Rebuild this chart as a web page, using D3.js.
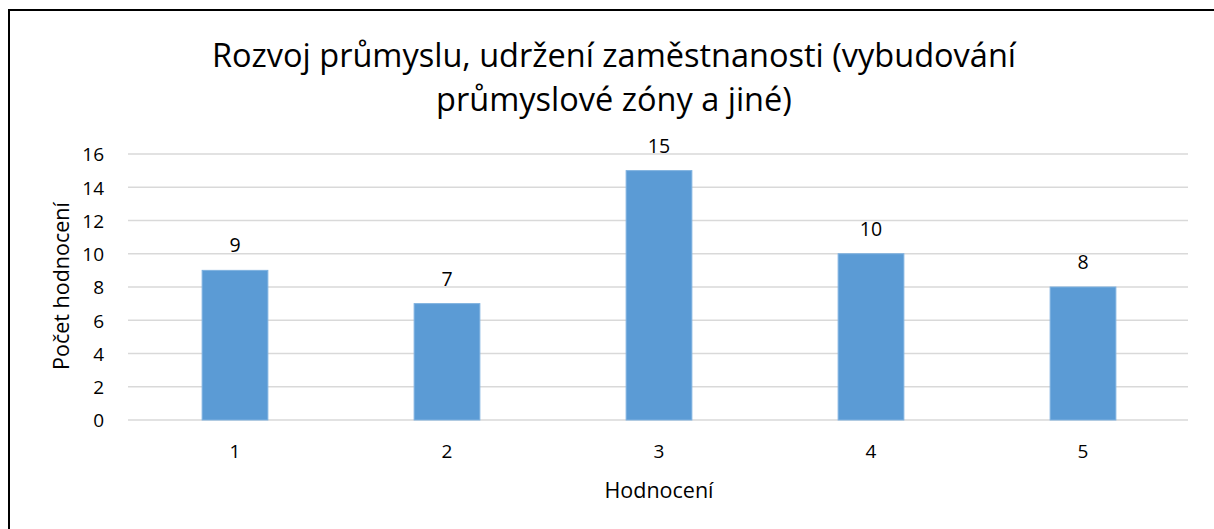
<!DOCTYPE html>
<html>
<head>
<meta charset="utf-8">
<script src="https://cdn.jsdelivr.net/npm/d3@7"></script>
<style>
  body { margin: 0; background: #fff; }
  text { font-family: "Open Sans", "Noto Sans", sans-serif; fill: #000; }
</style>
</head>
<body>
<div id="chart"></div>
<script>
// data
const kategorie = ["1", "2", "3", "4", "5"];
const hodnoty = [9, 7, 15, 10, 8];
const yTicks = [0, 2, 4, 6, 8, 10, 12, 14, 16];
const titulek = ["Rozvoj průmyslu, udržení zaměstnanosti (vybudování", "průmyslové zóny a jiné)"];
const xNazev = "Hodnocení";
const yNazev = "Počet hodnocení";

const W = 1214, H = 529;
const margin = { top: 154, right: 25, bottom: 109, left: 129 };
const width = W - margin.left - margin.right;
const height = H - margin.top - margin.bottom;

const svg = d3.select("#chart").append("svg")
  .attr("width", W).attr("height", H);

// ramecek
svg.append("path")
  .attr("d", `M9,${H} L9,10 L${W},10`)
  .attr("fill", "none").attr("stroke", "#000").attr("stroke-width", 2);

const g = svg.append("g").attr("transform", `translate(${margin.left},${margin.top})`);

const x = d3.scaleBand().domain(kategorie).range([0, width])
  .paddingInner(0.69).paddingOuter(0.345);
const y = d3.scaleLinear().domain([0, 16]).range([height, 0]);

// mrizka
g.selectAll(".grid").data(yTicks).enter().append("line")
  .attr("x1", -1).attr("x2", width - 1)
  .attr("y1", d => y(d)).attr("y2", d => y(d))
  .attr("stroke", "#d9d9d9").attr("stroke-width", 1.5);

// osa y
const yAxis = g.append("g").attr("transform", "translate(-25,0)")
  .call(d3.axisLeft(y).tickValues(yTicks).tickSize(0).tickPadding(0));
yAxis.select(".domain").remove();
yAxis.selectAll("text").style("font-size", "19px").attr("dy", "0.36em");

// osa x
const xAxis = g.append("g").attr("transform", `translate(0,${height})`)
  .call(d3.axisBottom(x).tickSize(0).tickPadding(0));
xAxis.select(".domain").remove();
xAxis.selectAll("text").style("font-size", "19px").attr("y", 38).attr("dy", 0);

// sloupce
g.selectAll(".bar").data(hodnoty).enter().append("rect")
  .attr("x", (d, i) => x(kategorie[i]))
  .attr("y", d => y(d))
  .attr("width", x.bandwidth())
  .attr("height", d => y(0) - y(d))
  .attr("fill", "#5b9bd5")
  .attr("stroke", "#7eb1e0").attr("stroke-width", 1);

// popisky
g.selectAll(".lbl").data(hodnoty).enter().append("text")
  .attr("x", (d, i) => x(kategorie[i]) + x.bandwidth() / 2)
  .attr("y", d => y(d) - 18)
  .attr("text-anchor", "middle")
  .style("font-size", "19.5px")
  .text(d => d);

// titulek
svg.selectAll(".title").data(titulek).enter().append("text")
  .attr("x", 614)
  .attr("y", (d, i) => 67 + i * 44)
  .attr("text-anchor", "middle")
  .style("font-size", "32.5px")
  .text(d => d);

// nazvy os
svg.append("text")
  .attr("x", 659).attr("y", 498)
  .attr("text-anchor", "middle").style("font-size", "21.5px")
  .text(xNazev);

svg.append("text")
  .attr("transform", `translate(69,${margin.top + height / 2 - 1}) rotate(-90)`)
  .attr("text-anchor", "middle").style("font-size", "21.5px")
  .text(yNazev);
</script>
</body>
</html>
